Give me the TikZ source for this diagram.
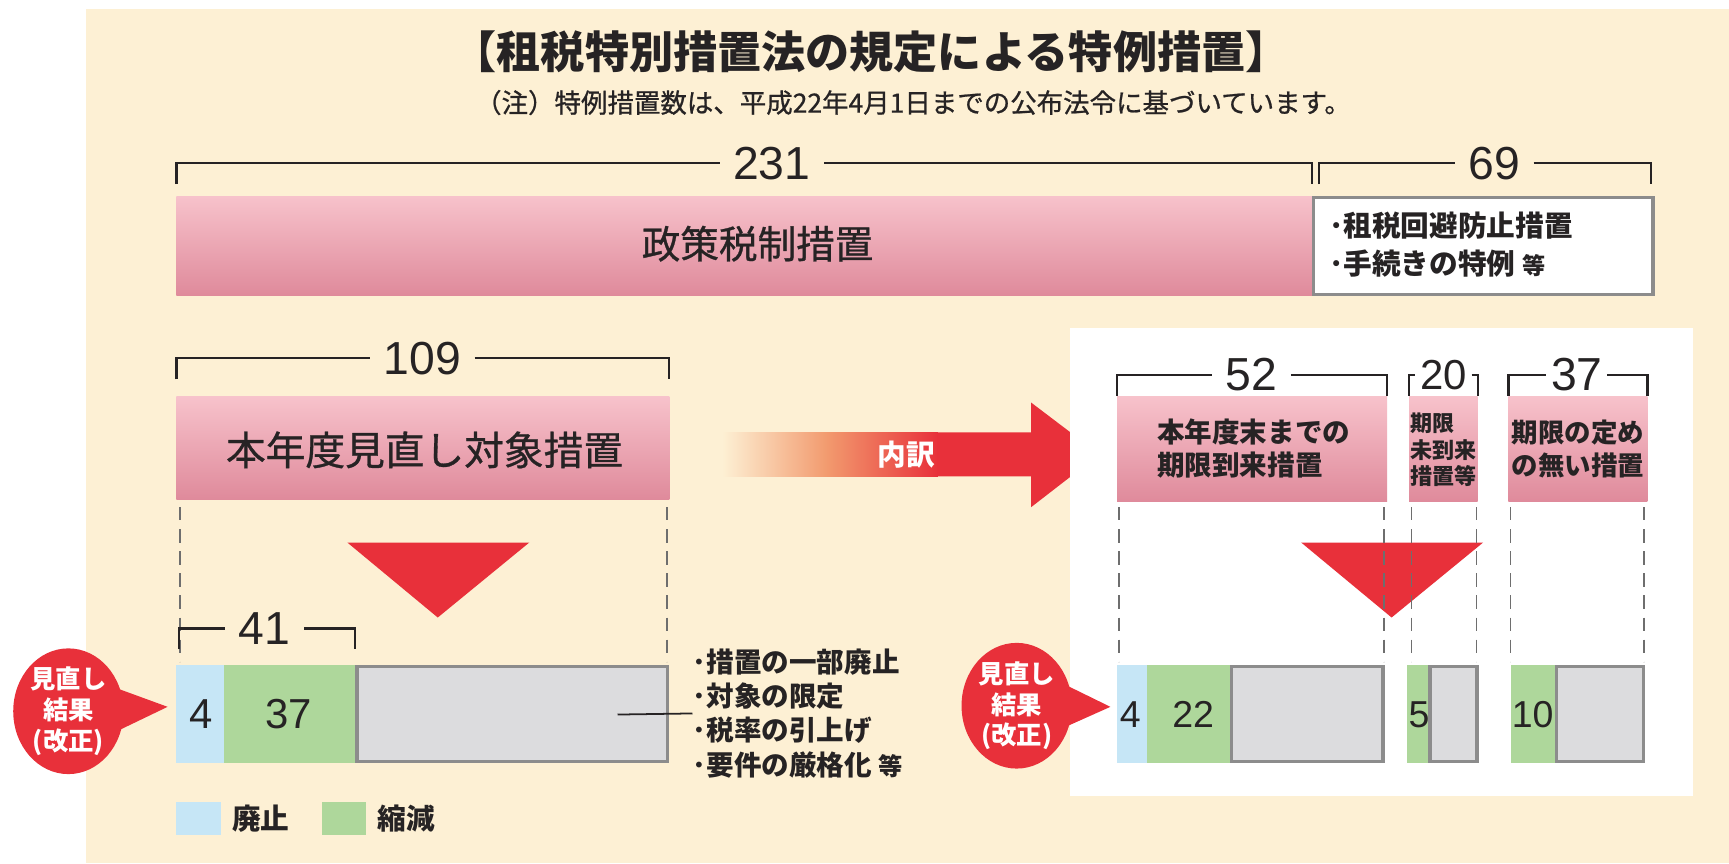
\documentclass[tikz,border=0pt]{standalone}
\usepackage{fontspec}
\setmainfont{Liberation Sans}
\newfontfamily\jp{Noto Sans CJK JP}
\newfontfamily\jpm[FakeBold=0.8]{Noto Sans CJK JP}
\usetikzlibrary{fit}
\definecolor{cream}{HTML}{FDF0D4}
\definecolor{pinkT}{HTML}{F7C2CB}
\definecolor{pinkB}{HTML}{DF8A9B}
\definecolor{redA}{HTML}{E8303A}
\definecolor{orangeA}{HTML}{F29A6E}
\definecolor{blueA}{HTML}{C6E6F6}
\definecolor{greenA}{HTML}{AED79B}
\definecolor{grayF}{HTML}{DCDCDE}
\definecolor{grayD}{HTML}{8C8C8C}
\definecolor{grayL}{HTML}{6E6E6E}
\definecolor{ink}{HTML}{262324}
\tikzset{
  pinkbox/.style={inner sep=0pt, top color=pinkT, bottom color=pinkB, draw=none},
  numlab/.style={text=ink, font=\fontsize{21}{21}\selectfont, inner xsep=6pt, inner ysep=0pt},
  barnum/.style={text=ink, font=\fontsize{19}{19}\selectfont, inner sep=0pt},
  barnums/.style={text=ink, font=\fontsize{17}{17}\selectfont, inner sep=0pt},
  brline/.style={draw=ink, line width=1pt},
  guide/.style={draw=grayL, line width=0.7pt, dash pattern=on 6pt off 4pt},
  blueseg/.style={fill=blueA, draw=none, inner sep=0pt},
  greenseg/.style={fill=greenA, draw=none, inner sep=0pt},
  grayseg/.style={fill=grayF, draw=grayD, line width=1.6pt, inner sep=0pt},
  jptext/.style={text=ink, inner sep=0pt},
  bubbletext/.style={text=white, font=\jp\bfseries\fontsize{11.5}{14}\selectfont, align=center, inner sep=0pt},
}
\newcommand{\brk}[6]{%
  \node[numlab] (#1) at (#5,#4) {#6};
  \draw[brline] (#2,#4+19) -- (#2,#4) -- (#1.west);
  \draw[brline] (#1.east) -- (#3,#4) -- (#3,#4+19);
}
\begin{document}
\begin{tikzpicture}[x=0.5pt,y=-0.5pt]
\useasboundingbox (0,0) rectangle (1568,783);
\fill[white] (0,0) rectangle (1568,783);
\fill[cream] (78,8) rectangle (1568,783);

% title
\node[jptext, font=\jp\bfseries\fontsize{20}{22}\selectfont] (title) at (790,47) {【租税特別措置法の規定による特例措置】};
\node[jptext, font=\jpm\fontsize{12}{13}\selectfont] (note) at (828,93) {（注）特例措置数は、平成22年4月1日までの公布法令に基づいています。};

% top row
\brk{b231}{160}{1190}{148}{700}{231}
\brk{b69}{1196}{1497}{148}{1355}{69}
\node[pinkbox, fit={(160,178)(1190,268)}] (policy) {};
\node[jptext, font=\jpm\fontsize{17.5}{17.5}\selectfont] (policyT) at (687,221) {政策税制措置};
\node[fill=white, draw=grayD, line width=1.5pt, inner sep=0pt, fit={(1191,179)(1499,267)}] (other) {};
\node[jptext, align=left, anchor=west, font=\jp\bfseries\fontsize{13}{17}\selectfont] (otherT) at (1205,222) {･租税回避防止措置\\･手続きの特例 {\fontsize{10.5}{10.5}\selectfont 等}};

% left group
\brk{b109}{160}{607}{325}{383}{109}
\node[pinkbox, fit={(160,360)(607,453)}] (review) {};
\node[jptext, font=\jpm\fontsize{18}{18}\selectfont] (reviewT) at (385,408) {本年度見直し対象措置};
\fill[redA] (315,492) -- (480,492) -- (397,560) -- cycle;
\draw[guide] (163,460) -- (163,600);
\draw[guide] (605,460) -- (605,600);
\brk{b41}{162}{322}{570}{240}{41}
\node[blueseg, fit={(160,603)(203,692)}] (lAbol) {};
\node[greenseg, fit={(203,603)(322,692)}] (lRed) {};
\node[grayseg, fit={(323.6,604.6)(605.4,690.4)}] (lRest) {};
\node[barnum] (n4a) at (182,648) {4};
\node[barnum] (n37) at (262,648) {37};
\node[jptext, align=left, anchor=west, font=\jp\bfseries\fontsize{12.5}{15.5}\selectfont] (measures) at (628,647) {･措置の一部廃止\\･対象の限定\\･税率の引上げ\\･要件の厳格化 {\fontsize{11}{11}\selectfont 等}};
\coordinate (lead) at (560,648);
\draw[draw=ink, line width=0.8pt] (lead) -- (measures.west);

% left bubble
\fill[redA] (62,645) ellipse [x radius=50, y radius=57];
\fill[redA] (100,622) -- (152,641) -- (100,666) -- cycle;
\node[bubbletext] (bubL) at (62,645) {見直し\\結果\\(改正)};

% legend
\node[blueseg, fit={(160,727)(200,757)}] (legA) {};
\node[jptext, anchor=west, font=\jp\bfseries\fontsize{13}{13}\selectfont] (legAT) at (210,742) {廃止};
\node[greenseg, fit={(292,727)(332,757)}] (legB) {};
\node[jptext, anchor=west, font=\jp\bfseries\fontsize{13}{13}\selectfont] (legBT) at (342,742) {縮減};

% arrow
\shade[left color=cream, right color=orangeA] (655,392) rectangle (750.5,432);
\shade[left color=orangeA, right color=redA] (750,392) rectangle (850.5,432);
\fill[redA] (850,392) -- (935,392) -- (935,365) -- (997,412) -- (935,460) -- (935,432) -- (850,432) -- cycle;
\node[text=white, font=\jp\bfseries\fontsize{13}{13}\selectfont, inner sep=0pt] (uchiwake) at (822,412) {内訳};

% right panel
\fill[white] (970,297) rectangle (1535,722);
\brk{b52}{1013}{1258}{340}{1135}{52}
\tikzset{numlab/.append style={inner xsep=2pt}}
\brk{b20}{1278}{1340}{340}{1309}{{\fontsize{19}{19}\selectfont 20}}
\brk{b37}{1368}{1494}{340}{1430}{37}
\node[pinkbox, fit={(1013,360)(1258,455)}] (exp) {};
\node[jptext, align=left, font=\jp\bfseries\fontsize{12.5}{15}\selectfont] (expT) at (1137,407) {本年度末までの\\期限到来措置};
\node[pinkbox, fit={(1278,360)(1340,455)}] (notexp) {};
\node[jptext, align=left, font=\jp\bfseries\fontsize{10}{12}\selectfont] (notexpT) at (1309,408) {期限\\未到来\\措置等};
\node[pinkbox, fit={(1368,360)(1494,455)}] (nolim) {};
\node[jptext, align=left, font=\jp\bfseries\fontsize{12}{15}\selectfont] (nolimT) at (1431,407) {期限の定め\\の無い措置};

\fill[redA] (1180,492) -- (1345,492) -- (1262,560) -- cycle;
\foreach \gx in {1015,1255,1280,1339,1370,1491}{
  \draw[guide] (\gx,460) -- (\gx,600);
}
\node[blueseg, fit={(1013,603)(1040,692)}] (rAbol) {};
\node[greenseg, fit={(1040,603)(1115,692)}] (rRed) {};
\node[grayseg, fit={(1116.6,604.6)(1254.4,690.4)}] (rRest) {};
\node[greenseg, fit={(1276,603)(1295,692)}] (mRed) {};
\node[grayseg, fit={(1296.6,604.6)(1339.4,690.4)}] (mRest) {};
\node[greenseg, fit={(1370,603)(1410,692)}] (nRed) {};
\node[grayseg, fit={(1411.6,604.6)(1490.4,690.4)}] (nRest) {};
\node[barnums] (n4b) at (1025,648) {4};
\node[barnums] (n22) at (1082,648) {22};
\node[barnums] (n5) at (1287,648) {5};
\node[barnums] (n10) at (1390,648) {10};

% right bubble
\fill[redA] (922,640) ellipse [x radius=50, y radius=57];
\fill[redA] (960,618) -- (1007,641) -- (960,662) -- cycle;
\node[bubbletext] (bubR) at (922,640) {見直し\\結果\\(改正)};
\end{tikzpicture}
\end{document}
